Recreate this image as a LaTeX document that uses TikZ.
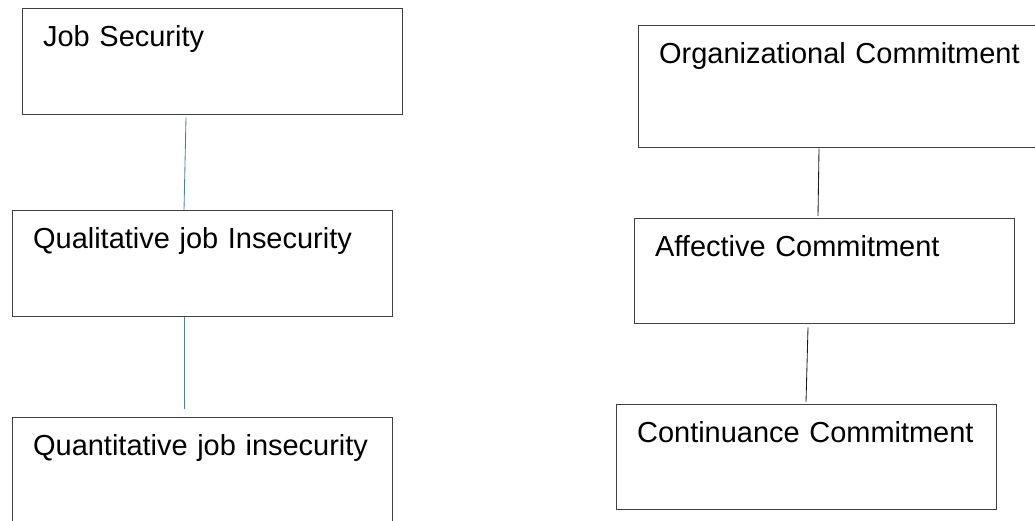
\documentclass[tikz,border=0pt]{standalone}
\usepackage{fontspec}
\setmainfont{Liberation Sans}
\usepackage{tikz}
\definecolor{BoxEdge}{HTML}{404040}
\definecolor{LinkBlue}{HTML}{4A7EBB}
\definecolor{LinkBlack}{HTML}{1A1A1A}

\begin{document}
\begin{tikzpicture}[x=1cm, y=1cm,
		conceptbox/.style={draw=BoxEdge, line width=0.9pt, rectangle, anchor=north west,
			inner xsep=0.5125cm, inner ysep=0pt, align=left, text height=0.95cm,
			font=\fontsize{20.6}{24}\selectfont},
		link/.style={line width=0.6pt}]
				\useasboundingbox (0,0) rectangle (25.875,-13.025);

				% job security side
				\node[conceptbox, text width=8.475cm, text depth=1.7cm] (jobsec) at (0.55,-0.2) {Job Security};
				\node[conceptbox, text width=8.475cm, text depth=1.7cm] (qualinsec) at (0.30,-5.25) {Qualitative job Insecurity};
				\node[conceptbox, text width=8.475cm, text depth=1.7cm] (quantinsec) at (0.30,-10.43) {Quantitative job insecurity};

				\draw[link, LinkBlue] ([xshift=4.1cm, yshift=-0.05cm]jobsec.south west)
					-- ([xshift=4.3cm]qualinsec.north west);
				\draw[link, LinkBlue] ([xshift=4.3cm]qualinsec.south west)
					-- ([xshift=4.3cm, yshift=0.2cm]quantinsec.north west);

				% commitment side (the top box runs off the right edge)
				\node[conceptbox, text width=9.6cm, text depth=2.1cm] (orgcommit) at (15.95,-0.63) {Organizational Commitment};
				\node[conceptbox, text width=8.475cm, text depth=1.675cm] (affcommit) at (15.85,-5.45) {Affective Commitment};
				\node[conceptbox, text width=8.475cm, text depth=1.675cm] (contcommit) at (15.40,-10.10) {Continuance Commitment};

				\draw[link, LinkBlack] ([xshift=4.525cm]orgcommit.south west)
					-- ([xshift=4.6cm, yshift=0.05cm]affcommit.north west);
				\draw[link, LinkBlack] ([xshift=4.35cm, yshift=-0.075cm]affcommit.south west)
					-- ([xshift=4.75cm, yshift=0.05cm]contcommit.north west);
			\end{tikzpicture}
\end{document}
